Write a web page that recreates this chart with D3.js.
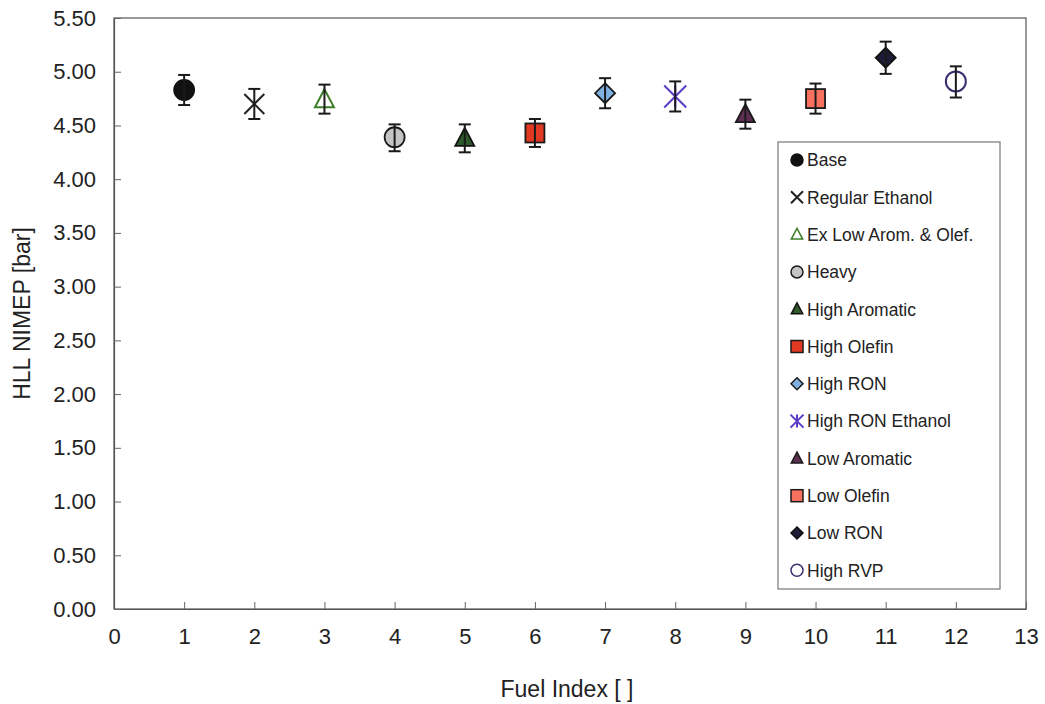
<!DOCTYPE html>
<html>
<head>
<meta charset="utf-8">
<script src="https://cdn.jsdelivr.net/npm/d3@7"></script>
<style>
	body { margin: 0; background: #fff; }
	svg text { font-family: "Liberation Sans", Arial, sans-serif; fill: #222; }
</style>
</head>
<body>
<div id="chart"></div>
<script>
var fuels = ["Base", "Regular Ethanol", "Ex Low Arom. & Olef.", "Heavy", "High Aromatic", "High Olefin",
	"High RON", "High RON Ethanol", "Low Aromatic", "Low Olefin", "Low RON", "High RVP"];
var fuelIndex = [1, 2, 3, 4, 5, 6, 7, 8, 9, 10, 11, 12];
var nimep = [4.83, 4.70, 4.74, 4.39, 4.38, 4.43, 4.80, 4.77, 4.60, 4.75, 5.13, 4.91];
var errUp = [0.14, 0.14, 0.14, 0.12, 0.13, 0.13, 0.14, 0.14, 0.14, 0.14, 0.15, 0.14];
var errDown = [0.14, 0.14, 0.13, 0.13, 0.13, 0.13, 0.14, 0.14, 0.13, 0.14, 0.15, 0.15];
var shapes = ["circle", "x", "triangle", "circle", "triangle", "square",
	"diamond", "asterisk", "triangle", "square", "diamond", "circle"];
var fills = ["#111111", "none", "none", "#c4c4c4", "#2f5a2c", "#e23a22",
	"#7fb0e0", "none", "#5e2f52", "#f8705e", "#1c1c38", "none"];
var strokes = ["#111111", "#222222", "#3f7f2a", "#1a1a1a", "#111111", "#1a1a1a",
	"#1a1a1a", "#5a3cc8", "#1a1a1a", "#1a1a1a", "#111111", "#3a3070"];
var xTicks = d3.range(0, 14);
var yTicks = d3.range(0, 5.51, 0.5);

var width = 1045;
var height = 704;
var margin = {top: 18, right: 19, bottom: 95, left: 114};
var figw = width - margin.left - margin.right;
var figh = height - margin.top - margin.bottom;

var x = d3.scaleLinear().domain([0, 13]).range([margin.left, margin.left + figw]);
var y = d3.scaleLinear().domain([0, 5.5]).range([margin.top + figh, margin.top]);

var svg = d3.select("#chart").append("svg")
	.attr("width", width)
	.attr("height", height);

// frame
svg.append("rect")
	.attr("x", x(0))
	.attr("y", y(5.5))
	.attr("width", x(13) - x(0))
	.attr("height", y(0) - y(5.5))
	.attr("fill", "none")
	.attr("stroke", "#555")
	.attr("stroke-width", 1.2);

var xAxis = d3.axisBottom(x).tickValues(xTicks).tickSizeInner(-7).tickSizeOuter(0).tickPadding(19)
	.tickFormat(d3.format("d"));
var yAxis = d3.axisLeft(y).tickValues(yTicks).tickSizeInner(-7).tickSizeOuter(0).tickPadding(18)
	.tickFormat(d3.format(".2f"));

var gx = svg.append("g")
	.attr("transform", "translate(0," + y(0) + ")")
	.call(xAxis);
var gy = svg.append("g")
	.attr("transform", "translate(" + x(0) + ",0)")
	.call(yAxis);
[gx, gy].forEach(function(g) {
	g.select(".domain").attr("stroke", "#555").attr("stroke-width", 1.2);
	g.selectAll(".tick line").attr("stroke", "#666");
	g.selectAll(".tick text")
		.style("font-size", "22px")
		.style("font-family", "Liberation Sans, Arial, sans-serif")
		.attr("fill", "#222");
});
gx.selectAll(".tick text").attr("dy", "0.71em");

svg.append("text")
	.text("Fuel Index [ ]")
	.attr("x", 567)
	.attr("y", 697)
	.style("text-anchor", "middle")
	.style("font-size", "23px");

svg.append("text")
	.text("HLL NIMEP [bar]")
	.style("text-anchor", "middle")
	.style("font-size", "23px")
	.attr("transform", "translate(30," + y(2.75) + ") rotate(-90)");

// marker drawing
var drawMarker = function(g, shape, cx, cy, s, fill, stroke, sw) {
	var h = s / 2;
	if (shape === "circle") {
		g.append("circle").attr("cx", cx).attr("cy", cy).attr("r", h)
			.attr("fill", fill).attr("stroke", stroke).attr("stroke-width", sw);
	} else if (shape === "square") {
		g.append("rect").attr("x", cx - h).attr("y", cy - h).attr("width", s).attr("height", s)
			.attr("fill", fill).attr("stroke", stroke).attr("stroke-width", sw);
	} else if (shape === "triangle") {
		var p = d3.path();
		p.moveTo(cx, cy - h * 1.05);
		p.lineTo(cx + h * 0.95, cy + h * 0.75);
		p.lineTo(cx - h * 0.95, cy + h * 0.75);
		p.closePath();
		g.append("path").attr("d", p.toString())
			.attr("fill", fill).attr("stroke", stroke).attr("stroke-width", sw).attr("stroke-linejoin", "miter");
	} else if (shape === "diamond") {
		var q = d3.path();
		q.moveTo(cx, cy - h);
		q.lineTo(cx + h, cy);
		q.lineTo(cx, cy + h);
		q.lineTo(cx - h, cy);
		q.closePath();
		g.append("path").attr("d", q.toString())
			.attr("fill", fill).attr("stroke", stroke).attr("stroke-width", sw);
	} else if (shape === "x") {
		var r = d3.path();
		r.moveTo(cx - h, cy - h); r.lineTo(cx + h, cy + h);
		r.moveTo(cx + h, cy - h); r.lineTo(cx - h, cy + h);
		g.append("path").attr("d", r.toString())
			.attr("fill", "none").attr("stroke", stroke).attr("stroke-width", sw);
	} else if (shape === "asterisk") {
		var a = d3.path();
		a.moveTo(cx - h, cy - h); a.lineTo(cx + h, cy + h);
		a.moveTo(cx + h, cy - h); a.lineTo(cx - h, cy + h);
		a.moveTo(cx, cy - h); a.lineTo(cx, cy + h);
		g.append("path").attr("d", a.toString())
			.attr("fill", "none").attr("stroke", stroke).attr("stroke-width", sw);
	}
};

var sizes = {circle: 20, square: 19, triangle: 20, diamond: 20, x: 20, asterisk: 22};

var pts = svg.append("g");
for (var i = 0; i < fuels.length; i++) {
	var cx = x(fuelIndex[i]);
	var cy = y(nimep[i]);
	var sw = (shapes[i] === "x" || shapes[i] === "asterisk" || fills[i] === "none") ? 2 : 1.8;
	drawMarker(pts, shapes[i], cx, cy, sizes[shapes[i]], fills[i], strokes[i], sw);

	// error bar drawn over marker
	var yHi = y(nimep[i] + errUp[i]);
	var yLo = y(nimep[i] - errDown[i]);
	pts.append("line")
		.attr("x1", cx).attr("x2", cx).attr("y1", yHi).attr("y2", yLo)
		.attr("stroke", "#1a1a1a").attr("stroke-width", 2);
	pts.append("line")
		.attr("x1", cx - 6).attr("x2", cx + 6).attr("y1", yHi).attr("y2", yHi)
		.attr("stroke", "#1a1a1a").attr("stroke-width", 2);
	pts.append("line")
		.attr("x1", cx - 6).attr("x2", cx + 6).attr("y1", yLo).attr("y2", yLo)
		.attr("stroke", "#1a1a1a").attr("stroke-width", 2);
}

// legend
var legend = svg.append("g").attr("transform", "translate(778,142)");
legend.append("rect")
	.attr("width", 222)
	.attr("height", 447)
	.attr("fill", "#fff")
	.attr("stroke", "#777")
	.attr("stroke-width", 1.2);
var lStep = 37.3;
for (var j = 0; j < fuels.length; j++) {
	var ly = 18 + j * lStep;
	var ls = shapes[j] === "asterisk" ? 13 : 12;
	drawMarker(legend, shapes[j], 19, ly, ls, fills[j], strokes[j], shapes[j] === "x" || shapes[j] === "asterisk" ? 2 : 1.5);
	legend.append("text")
		.text(fuels[j])
		.attr("x", 29)
		.attr("y", ly)
		.attr("dy", "0.36em")
		.style("font-size", "17.5px");
}
</script>
</body>
</html>
